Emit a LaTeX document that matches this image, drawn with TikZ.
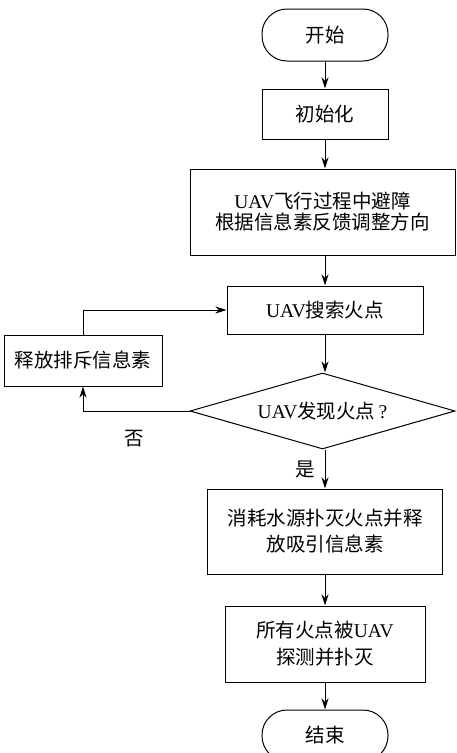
\documentclass[tikz,border=0pt]{standalone}
\usepackage{fontspec}
\setmainfont{Liberation Serif}
\newfontfamily\cjk{Noto Sans CJK SC}
\usetikzlibrary{positioning,shapes.geometric,arrows.meta}
\newcommand{\uav}{{\rmfamily UAV}}

\begin{document}
\begin{tikzpicture}[-,>={Stealth[length=11pt,width=7pt,inset=3.5pt]},line width=1pt,
  every node/.style={font=\fontsize{19.5}{26}\selectfont\cjk},
  term node/.style={rectangle,rounded corners=25pt,draw,minimum width=126pt,minimum height=52pt},
  proc node/.style={rectangle,draw,align=center},
  test node/.style={diamond,draw,aspect=3.5,minimum width=265pt,minimum height=76pt,inner sep=0pt}]

            \useasboundingbox (0,0) rectangle (456pt,-753pt);

            \node[term node] (1) at (325pt,-35pt) {开始};
            \node[proc node, minimum width=126pt, minimum height=50pt] (2) [below=27pt of 1] {初始化};
            \node[proc node, minimum width=265pt, minimum height=86pt, font=\fontsize{19.5}{21}\selectfont\cjk] (3) [below=29pt of 2, xshift=-2.5pt] {\uav{}飞行过程中避障\\根据信息素反馈调整方向};
            \node[proc node, minimum width=196pt, minimum height=48pt] (4) [below=30pt of 3, xshift=2.5pt] {\uav{}搜索火点};
            \node[test node] (5) [below=38pt of 4, xshift=-2.5pt] {\uav{}发现火点{\rmfamily\,?}};
            \node[proc node, minimum width=235pt, minimum height=85pt] (6) [below=39pt of 5, xshift=2.5pt] {消耗水源扑灭火点并释\\放吸引信息素};
            \node[proc node, minimum width=200pt, minimum height=76pt, font=\fontsize{19.5}{27}\selectfont\cjk] (7) [below=31pt of 6] {所有火点被\uav\\探测并扑灭};
            \node[term node, minimum height=51pt] (8) [below=27pt of 7] {结束};
            \node[proc node, minimum width=158pt, minimum height=51pt] (9) [below left=0pt and 64pt of 4] {释放排斥信息素};

            \draw[->] (1) to (2);
            \draw[->] (2) to (2 |- 3.north);
            \draw[->] (3.south -| 4) to (4);
            \draw[->] (4) to (4 |- 5.north);
            \draw[->] (5.south -| 6) -- node[left=6pt]{是} (6);
            \draw[->] (6) to (7);
            \draw[->] (7) to (8);

            \draw[->] (5.west) -| node[below=15pt, pos=0.26]{否} (9.south);
            \draw[->] (9.north) |- (4.west);

        \end{tikzpicture}
\end{document}
